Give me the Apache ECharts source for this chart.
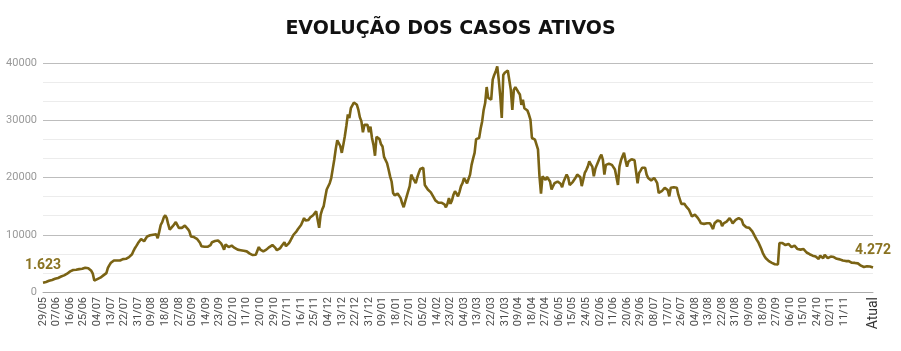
<!DOCTYPE html>
<html>
<head>
<meta charset="utf-8">
<script src="https://cdn.jsdelivr.net/npm/echarts@6/dist/echarts.min.js"></script>
<style>
  html, body { margin: 0; padding: 0; background: #fff; }
  #chart { width: 901px; height: 351px; }
</style>
</head>
<body>
<div id="chart"></div>
<script>
// first day of the series (29/05/2020); last point is shown as "Atual"
const startDate = new Date(2020, 4, 29);
const lastLabel = 'Atual';
const lastDatedLabel = 531; // 11/11, last dated tick before "Atual"
const yTicks = [0, 10000, 20000, 30000, 40000];

// active cases, one value per day
const activeCases = [
  1623, 1700, 1750, 1850, 1950, 2000, 2100, 2200, 2300, 2400,
  2450, 2550, 2700, 2750, 2900, 3100, 3200, 3400, 3600, 3800,
  3850, 3900, 3900, 3950, 4000, 4100, 4050, 4200, 4250, 4200,
  4150, 4100, 3700, 3200, 2000, 2100, 2250, 2300, 2500, 2700,
  2900, 3100, 3300, 4200, 4700, 5100, 5300, 5500, 5450, 5500,
  5600, 5500, 5700, 5750, 5600, 5800, 5900, 6100, 6400, 6600,
  7200, 7700, 8100, 8550, 8800, 9250, 9100, 8850, 9300, 9700,
  9500, 9900, 10200, 10000, 10300, 10100, 9400, 10500, 11700, 12200,
  13000, 13400, 12900, 11800, 10900, 11100, 11500, 11800, 12200, 11900,
  11200, 10900, 11200, 11400, 11600, 11500, 11000, 10600, 9700, 9800,
  9600, 9500, 9300, 9100, 8600, 8000, 7950, 7900, 7850, 7900,
  7850, 8200, 8700, 8850, 8900, 9000, 9000, 8850, 8500, 8000,
  7400, 8300, 8100, 7850, 7900, 8100, 7900, 7700, 7500, 7400,
  7350, 7300, 7250, 7200, 7150, 7100, 6900, 6700, 6600, 6450,
  6350, 6500, 6800, 7850, 7400, 7100, 7100, 7300, 7400, 7500,
  7850, 8000, 8200, 8300, 7700, 7300, 7100, 7600, 8000, 8300,
  8700, 8000, 8300, 8550, 9000, 9500, 10000, 10300, 10600, 11000,
  11200, 11700, 12000, 12900, 12500, 12200, 12600, 13000, 13200, 13400,
  13500, 14100, 12600, 11200, 13500, 14400, 15000, 16500, 17900, 18200,
  19000, 19900, 21500, 23100, 25000, 26500, 26600, 25500, 24300, 25700,
  27200, 29000, 31000, 30400, 32100, 32600, 33100, 32900, 32700, 31800,
  30500, 29800, 27900, 29200, 29300, 29200, 27900, 28900, 26900, 25700,
  23800, 27100, 26900, 26700, 25800, 25400, 23600, 23400, 22500, 21400,
  20200, 19300, 17300, 16900, 16800, 17200, 17000, 16400, 15500, 14800,
  15800, 16700, 17600, 18500, 20500, 19900, 19500, 19000, 20000, 20800,
  21500, 21600, 21700, 18700, 18300, 17900, 17600, 17400, 17200, 16500,
  16000, 15800, 15600, 15500, 15600, 15800, 15300, 14800, 15400, 16400,
  15400, 16000, 17000, 17600, 17200, 16700, 17500, 18500, 19000, 19900,
  19900, 19000, 18900, 20500, 22200, 23300, 24300, 26700, 26800, 26900,
  28500, 29800, 31800, 33000, 35800, 33900, 33600, 33600, 37100, 37900,
  38500, 39400, 37100, 34200, 30400, 37900, 38300, 38500, 38700, 38800,
  35300, 31800, 35300, 35800, 35500, 34900, 34500, 32700, 33600, 32100,
  31900, 31700, 31000, 30100, 26900, 26700, 26600, 26300, 24900, 20200,
  17200, 20200, 19900, 19600, 20100, 19700, 19300, 17900, 18500, 19000,
  19000, 19300, 19600, 18900, 18300, 19300, 19600, 20500, 20000, 18700,
  18700, 19200, 19600, 20000, 20500, 20300, 20100, 18500, 19600, 20800,
  21300, 21900, 22800, 22300, 21900, 20200, 21500, 22200, 22300, 23500,
  24000, 23100, 20500, 22200, 22300, 22400, 22500, 22200, 21900, 21400,
  21200, 18700, 21900, 23000, 23700, 24300, 23000, 21900, 22800, 23100,
  23200, 23100, 23000, 22800, 19000, 20800, 21200, 21700, 21700, 21700,
  20500, 19900, 20200, 19500, 19700, 19900, 19500, 19000, 17300, 17500,
  17600, 17900, 18200, 18500, 17800, 16700, 18200, 18300, 18300, 18200,
  18200, 17000, 16700, 15400, 15400, 15400, 15000, 14700, 14400, 13800,
  13200, 13500, 13500, 13400, 12900, 12500, 12000, 12000, 11900, 11900,
  12000, 12000, 12000, 11500, 11000, 12000, 12300, 12500, 12600, 12300,
  11500, 12000, 12100, 12300, 12600, 12900, 12500, 12000, 12300, 12600,
  12900, 12900, 12900, 12600, 11800, 11500, 11300, 11200, 11200, 10900,
  10600, 10100, 9600, 9100, 8700, 8100, 7500, 6800, 6300, 5900,
  5600, 5400, 5200, 5100, 4900, 4850, 4800, 4800, 8550, 8550,
  8550, 8300, 8200, 8100, 8400, 8300, 7850, 8000, 8100, 7800,
  7500, 7450, 7400, 7450, 7500, 7200, 6900, 6700, 6600, 6400,
  6350, 6300, 6200, 6000, 5760, 6350, 6100, 5900, 6500, 6200,
  5900, 6100, 6200, 6150, 6100, 5900, 5800, 5760, 5700, 5650,
  5500, 5350, 5400, 5530, 5400, 5180, 5100, 5060, 5080, 5180,
  5000, 4800, 4600, 4450, 4370, 4400, 4480, 4480, 4450, 4480, 4272
];

// build dd/mm labels for each day, last one is "Atual"
const categories = activeCases.map((v, i) => {
  if (i === activeCases.length - 1) return lastLabel;
  const d = new Date(startDate.getFullYear(), startDate.getMonth(), startDate.getDate() + i);
  return String(d.getDate()).padStart(2, '0') + '/' + String(d.getMonth() + 1).padStart(2, '0');
});
const lastIdx = activeCases.length - 1;

const fmtBR = n => n.toLocaleString('pt-BR');

const chart = echarts.init(document.getElementById('chart'));

chart.setOption({
  animation: false,
  title: {
    text: 'EVOLUÇÃO DOS CASOS ATIVOS',
    left: 'center',
    top: 15,
    textStyle: {
      fontFamily: 'DejaVu Sans',
      fontWeight: 'bold',
      fontSize: 19,
      color: '#111'
    }
  },
  grid: { left: 43, right: 28, top: 63, bottom: 59 },
  xAxis: {
    type: 'category',
    data: categories,
    boundaryGap: false,
    axisLine: { lineStyle: { color: '#aaa' } },
    axisTick: { show: false },
    axisLabel: {
      rotate: 90,
      hideOverlap: false,
      interval: (idx) => (idx % 9 === 0 && idx <= lastDatedLabel) || idx === lastIdx,
      fontFamily: 'Roboto',
      fontSize: 11,
      color: '#4a4a4a',
      margin: 5,
      formatter: (val) => val === lastLabel ? '{big|' + val + '}' : val,
      rich: { big: { fontSize: 14, color: '#333', fontFamily: 'Roboto' } }
    }
  },
  yAxis: {
    type: 'value',
    min: yTicks[0],
    max: yTicks[yTicks.length - 1],
    interval: 10000,
    axisLine: { show: false },
    axisTick: { show: false },
    axisLabel: {
      fontFamily: 'Roboto', fontSize: 11, color: '#999', margin: 6,
      formatter: v => String(v)
    },
    splitLine: { lineStyle: { color: '#bdbdbd' } },
    minorTick: { show: false, splitNumber: 3 },
    minorSplitLine: { show: true, lineStyle: { color: '#ececec' } }
  },
  series: [{
    type: 'line',
    data: activeCases,
    showSymbol: false,
    lineStyle: { width: 2.6, color: '#7a6314' },
    itemStyle: { color: '#7a6314' },
    markPoint: {
      symbol: 'circle',
      symbolSize: 0,
      label: {
        show: true,
        position: 'top',
        distance: 10,
        fontFamily: 'Roboto',
        fontWeight: 'bold',
        fontSize: 14,
        color: '#8a7322',
        formatter: p => fmtBR(p.value)
      },
      data: [
        { coord: [0, activeCases[0]], value: activeCases[0] },
        { coord: [lastIdx, activeCases[lastIdx]], value: activeCases[lastIdx] }
      ]
    }
  }]
});
</script>
</body>
</html>
